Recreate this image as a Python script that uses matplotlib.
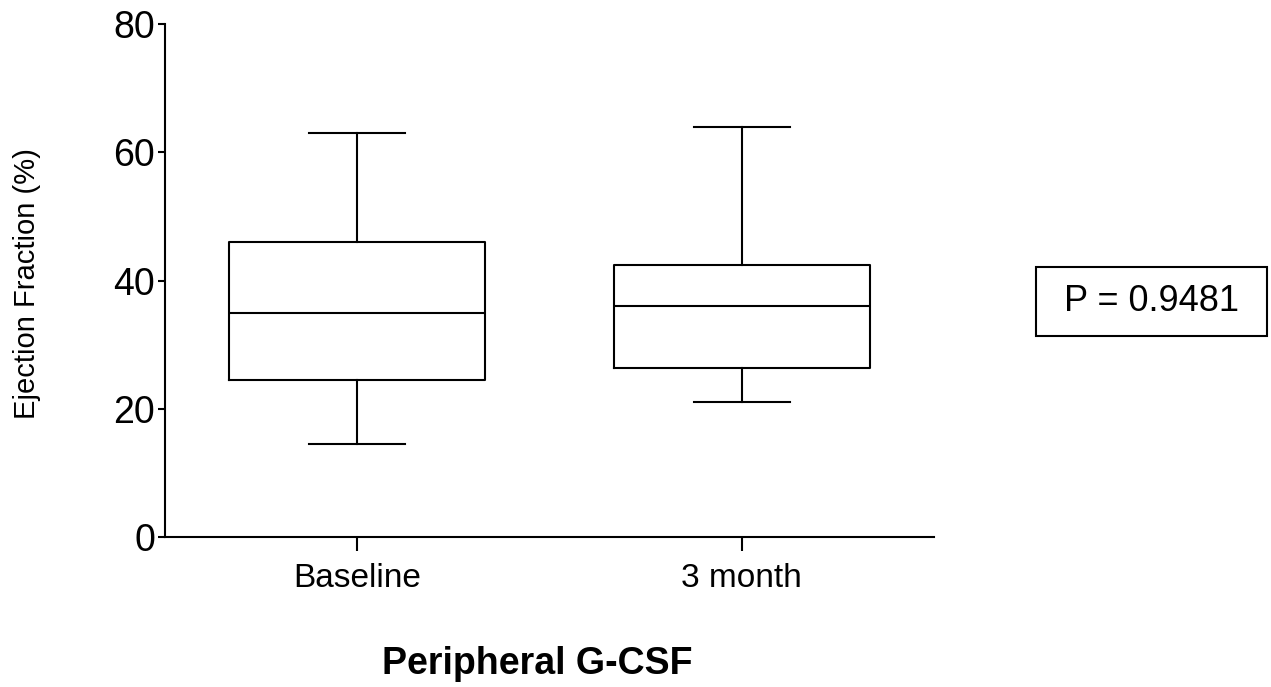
import matplotlib
matplotlib.use("Agg")
from matplotlib import pyplot as plt
from matplotlib.patches import Rectangle

plt.rcParams['font.family'] = ['Liberation Sans', 'DejaVu Sans']

groups = ['Baseline', '3 month']
whislo = [14.5, 21]
q1 = [24.5, 26.3]
med = [35, 36]
q3 = [46, 42.5]
whishi = [63, 64]
p_text = 'P = 0.9481'

stats = []
for i in range(len(groups)):
    stats.append({'label': groups[i], 'whislo': whislo[i], 'q1': q1[i], 'med': med[i],
                  'q3': q3[i], 'whishi': whishi[i], 'fliers': []})

W, H = 1271, 687
fig = plt.figure(figsize=(W / 100, H / 100), dpi=100)
ax = fig.add_axes([0.1298, 0.2183, 0.6051, 0.7467])

lw = 1.5
ax.bxp(stats, positions=[1, 2], widths=0.667, capwidths=0.25, showfliers=False,
       boxprops=dict(color='black', linewidth=lw),
       medianprops=dict(color='black', linewidth=lw),
       whiskerprops=dict(color='black', linewidth=lw),
       capprops=dict(color='black', linewidth=lw))

ax.set_xlim(0.5, 2.5)
ax.set_ylim(0, 80)
ax.set_yticks([0, 20, 40, 60, 80])
ax.set_xticks([1, 2])
ax.set_xticklabels(groups, fontsize=24)
ax.tick_params(axis='y', labelsize=27, width=lw, length=5, pad=2)
ax.tick_params(axis='x', width=lw, length=10, pad=9)
ax.spines['top'].set_visible(False)
ax.spines['right'].set_visible(False)
ax.spines['left'].set_linewidth(lw)
ax.spines['bottom'].set_linewidth(lw)

fig.text(27 / W, 1 - 284 / H, 'Ejection Fraction (%)', rotation=90,
         ha='center', va='center', fontsize=21)
fig.text(537 / W, 1 - 664 / H, 'Peripheral G-CSF', ha='center', va='center',
         fontsize=27, fontweight='bold')

# P-value box
fig.patches.append(Rectangle((1036 / W, 1 - 336 / H), 231 / W, 69 / H,
                             transform=fig.transFigure, facecolor='white',
                             edgecolor='black', linewidth=lw))
fig.text(1151.5 / W, 1 - 301.5 / H, p_text, ha='center', va='center', fontsize=26)

fig.savefig('out.png', dpi=100)
